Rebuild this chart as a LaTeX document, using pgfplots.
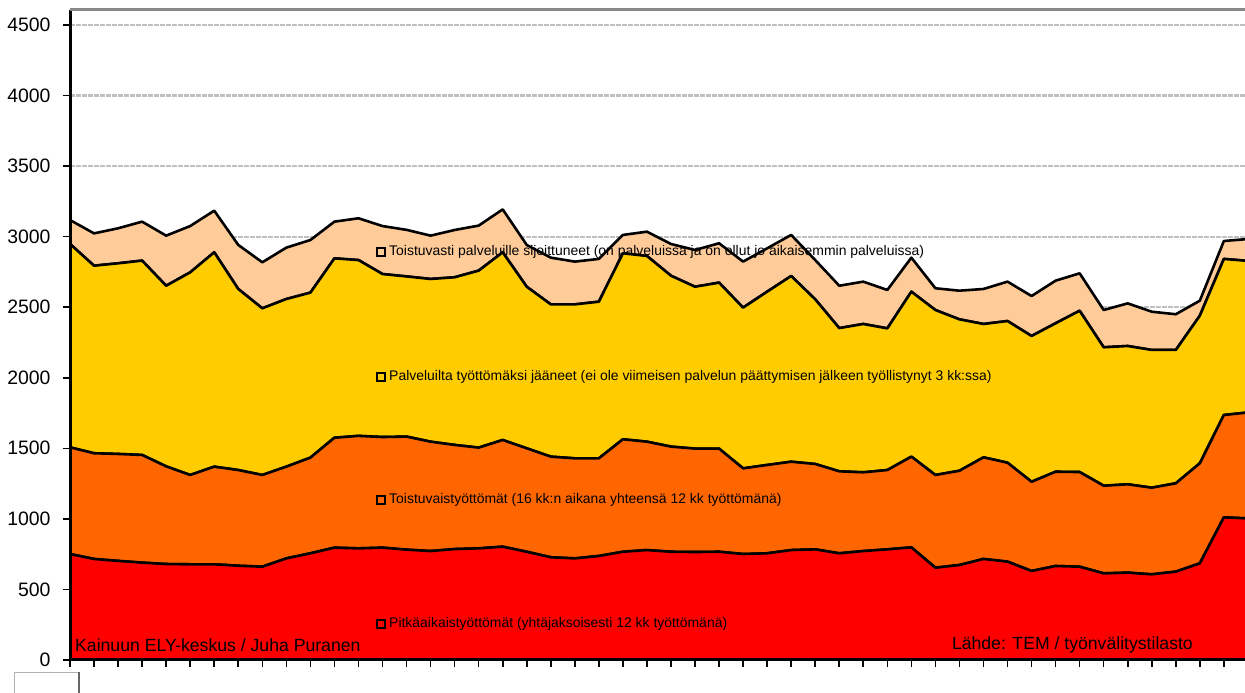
\documentclass[border=0pt]{standalone}
\usepackage{fontspec}
\setmainfont{Liberation Sans}
\usepackage{pgfplots}
\usepackage{pgfplotstable}
\pgfplotsset{compat=1.18}
\definecolor{cRed}{HTML}{FF0000}
\definecolor{cOrange}{HTML}{FF6600}
\definecolor{cYellow}{HTML}{FFCC00}
\definecolor{cPeach}{HTML}{FFCC99}
\definecolor{cGrid}{HTML}{C0C0C0}
% A = pitkaaikaistyottomat, B = toistuvaistyottomat, C = palveluilta tyottomaksi, D = toistuvasti palveluille
\pgfplotstableread{
i A B C D
0 751 756 1441 170
1 716 749 1329 229
2 702 758 1351 248
3 690 763 1377 276
4 680 692 1280 355
5 678 633 1436 328
6 678 692 1519 295
7 668 678 1283 312
8 661 650 1181 326
9 720 650 1188 364
10 756 678 1169 373
11 796 779 1271 260
12 791 797 1246 296
13 796 784 1155 340
14 782 801 1135 330
15 772 775 1153 307
16 786 738 1188 335
17 791 714 1254 319
18 803 756 1330 304
19 767 733 1145 296
20 728 713 1079 331
21 720 709 1091 303
22 737 692 1110 303
23 767 797 1318 130
24 779 768 1316 172
25 767 745 1211 225
26 765 733 1147 260
27 767 731 1176 279
28 751 607 1139 326
29 756 626 1228 307
30 779 626 1316 291
31 784 605 1167 278
32 756 581 1015 300
33 772 558 1051 300
34 784 562 1004 272
35 798 643 1169 241
36 654 657 1169 154
37 673 668 1073 203
38 716 720 945 248
39 697 701 1004 279
40 631 632 1033 283
41 666 668 1052 302
42 661 671 1143 265
43 614 621 981 264
44 619 626 980 302
45 607 614 976 271
46 626 626 945 253
47 685 709 1046 106
48 1011 725 1106 127
49 1003 751 1074 155
}\data
\begin{document}
\begin{tikzpicture}[x=1bp,y=1bp]
\useasboundingbox (0,0) rectangle (1245,693);
\begin{axis}[
  at={(70bp,33bp)}, anchor=south west,
  width=1175bp, height=650bp, scale only axis,
  xmin=0, xmax=48.88, ymin=0, ymax=4606,
  stack plots=y,
  axis x line*=bottom, axis y line*=left,
  axis line style={black, line width=2.5bp},
  ytick={0,500,...,4500},
  xtick={0,...,49}, xticklabels={},
  tick align=outside,
  major tick length=7bp,
  tick style={black, line width=1.6bp},
  ymajorgrids,
  grid style={cGrid, line width=2.2bp, dash pattern=on 5bp off 1bp},
  yticklabel style={font=\fontsize{19.5}{20}\selectfont, xshift=-9bp},
  /pgf/number format/assume math mode=true,
  /pgf/number format/set thousands separator={},
  clip=true,
]
\addplot[fill=cRed, draw=black, line width=2.6bp, line join=round] table[x=i,y=A]{\data} \closedcycle;
\addplot[fill=cOrange, draw=black, line width=2.6bp, line join=round] table[x=i,y=B]{\data} \closedcycle;
\addplot[fill=cYellow, draw=black, line width=2.6bp, line join=round] table[x=i,y=C]{\data} \closedcycle;
\addplot[fill=cPeach, draw=black, line width=2.6bp, line join=round] table[x=i,y=D]{\data} \closedcycle;
\end{axis}
% axis lines on top
\draw[black, line width=3bp] (70,683) -- (70,33) -- (1245,33);
\draw[color={rgb,255:red,136;green,136;blue,136}, line width=3bp] (70,683) -- (1245,683);
% in-chart labels
\tikzset{lbl/.style={anchor=west, inner sep=0pt, font=\fontsize{14}{16}\selectfont, text=black}}
\draw[black, line width=2bp, fill=cPeach] (377,437) rectangle ++(8,8);
\node[lbl] at (389,441) {Toistuvasti palveluille sijoittuneet (on palveluissa ja on ollut jo aikaisemmin palveluissa)};
\draw[black, line width=2bp, fill=cYellow] (377,312) rectangle ++(8,8);
\node[lbl] at (389,316) {Palveluilta työttömäksi jääneet (ei ole viimeisen palvelun päättymisen jälkeen työllistynyt 3 kk:ssa)};
\draw[black, line width=2bp, fill=cOrange] (377,189) rectangle ++(8,8);
\node[lbl] at (389,193) {Toistuvaistyöttömät (16 kk:n aikana yhteensä 12 kk työttömänä)};
\draw[black, line width=2bp, fill=cRed] (377,65) rectangle ++(8,8);
\node[lbl] at (389,69) {Pitkäaikaistyöttömät (yhtäjaksoisesti 12 kk työttömänä)};
% source texts
\node[anchor=west, inner sep=0pt, font=\fontsize{17.7}{20}\selectfont] at (75,48) {Kainuun ELY-keskus / Juha Puranen};
\node[anchor=east, inner sep=0pt, font=\fontsize{17.7}{20}\selectfont] at (1193,48) {Lähde: TEM / työnvälitystilasto};
% partial box at lower left
\draw[gray!60, line width=0.8bp] (14,-2) -- (14,21) -- (79,21);
\draw[gray!80!black, line width=1.2bp] (79,21) -- (79,-2);
\end{tikzpicture}
\end{document}
